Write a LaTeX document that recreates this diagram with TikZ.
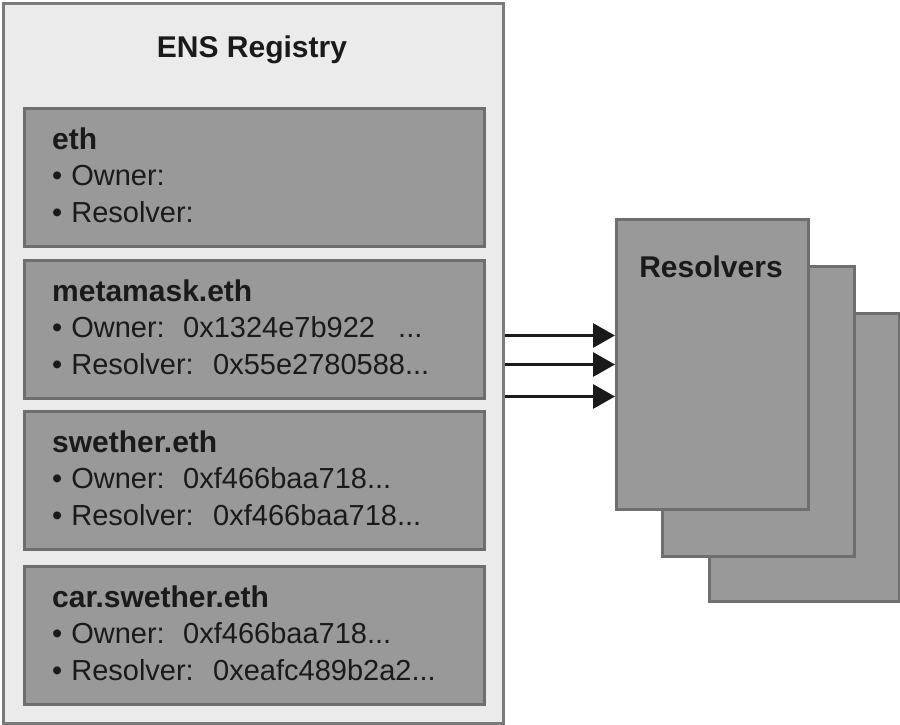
\documentclass[tikz,border=0pt]{standalone}
\usepackage{fontspec}
\setmainfont{Liberation Sans}
\usetikzlibrary{arrows.meta}
\definecolor{outerfill}{HTML}{EBEBEB}
\definecolor{outerline}{HTML}{7A7A7A}
\definecolor{boxfill}{HTML}{999999}
\definecolor{boxline}{HTML}{6E6E6E}
\definecolor{ink}{HTML}{1A1A1A}
\newcommand\ensbul{•\kern9pt}
\tikzset{
  regbox/.style={draw=outerline, fill=outerfill, line width=3pt, anchor=north west, inner sep=0pt},
  namebox/.style={draw=boxline, fill=boxfill, line width=3pt, anchor=north west, inner sep=0pt, minimum width=460pt, minimum height=138pt},
  resbox/.style={draw=boxline, fill=boxfill, line width=3pt, anchor=north west, inner sep=0pt, minimum width=192pt, minimum height=290pt},
  txt/.style={text=ink, inner sep=0pt, anchor=base west, font=\fontsize{29}{34}\selectfont},
  btxt/.style={txt, font=\fontsize{30}{35}\selectfont\bfseries},
  arr/.style={draw=ink, line width=3pt, -{Triangle[length=22pt,width=24pt]}}
}
\begin{document}
\begin{tikzpicture}[x=1pt,y=-1pt]
\useasboundingbox (0,0) rectangle (900,725);
\fill[white] (0,0) rectangle (900,725);
% registry
\node[regbox, minimum width=500pt, minimum height=720pt] (reg) at (2,2) {};
\node[btxt, anchor=base] (title) at (252,58) {ENS Registry};
% entries
\node[namebox] (eth) at (23,107) {};
\node[btxt] (ethn) at (52,149) {eth};
\node[txt] (etho) at (52,185) {\ensbul Owner:};
\node[txt] (ethr) at (52,222) {\ensbul Resolver:};

\node[namebox] (mm) at (23,259) {};
\node[btxt] (mmn) at (52,301) {metamask.eth};
\node[txt] (mmo) at (52,337) {\ensbul Owner:};
\node[txt] (mmov) at (183,337) {0x1324e7b922};
\node[txt] (mmod) at (398,337) {...};
\node[txt] (mmr) at (52,374) {\ensbul Resolver:};
\node[txt] (mmrv) at (213,374) {0x55e2780588...};

\node[namebox] (sw) at (23,410) {};
\node[btxt] (swn) at (52,452) {swether.eth};
\node[txt] (swo) at (52,488) {\ensbul Owner:};
\node[txt] (swov) at (183,488) {0xf466baa718...};
\node[txt] (swr) at (52,525) {\ensbul Resolver:};
\node[txt] (swrv) at (213,525) {0xf466baa718...};

\node[namebox] (car) at (23,565) {};
\node[btxt] (carn) at (52,607) {car.swether.eth};
\node[txt] (caro) at (52,643) {\ensbul Owner:};
\node[txt] (carov) at (183,643) {0xf466baa718...};
\node[txt] (carr) at (52,680) {\ensbul Resolver:};
\node[txt] (carrv) at (213,680) {0xeafc489b2a2...};
% resolvers
\node[resbox, minimum width=190pt, minimum height=288pt] (res3) at (708,312) {};
\node[resbox] (res2) at (661,265) {};
\node[resbox] (res1) at (615,218) {};
\node[btxt, anchor=base] (restitle) at (711,277) {Resolvers};
% arrows
\coordinate (t1) at ([yshift=29pt]res1.west);
\coordinate (t2) at (res1.west);
\coordinate (t3) at ([yshift=-32pt]res1.west);
\draw[arr] (reg.east |- t1) -- (t1);
\draw[arr] (reg.east |- t2) -- (t2);
\draw[arr] (reg.east |- t3) -- (t3);
\end{tikzpicture}
\end{document}
